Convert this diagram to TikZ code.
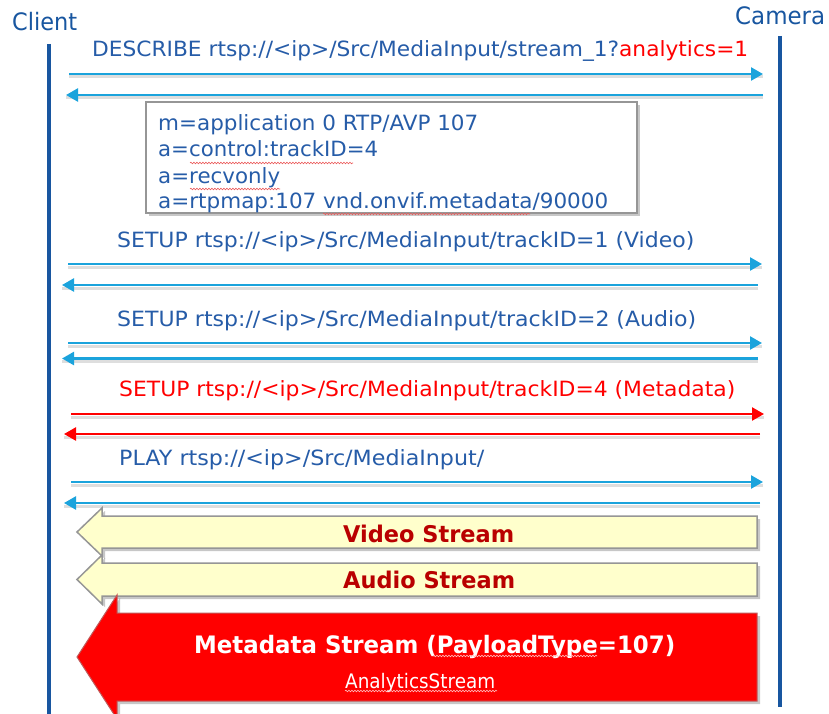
\documentclass[tikz,border=0pt]{standalone}
\usepackage{fontspec}
\setmainfont{DejaVu Sans}
\usetikzlibrary{arrows.meta,decorations.pathmorphing}
\definecolor{lifeblue}{RGB}{24,86,160}
\definecolor{msgblue}{RGB}{27,163,220}
\definecolor{txtblue}{RGB}{38,92,168}
\definecolor{msgred}{RGB}{255,0,0}
\definecolor{strred}{RGB}{185,0,0}
\definecolor{pale}{RGB}{255,255,204}
\definecolor{edgegray}{RGB}{150,150,150}
\definecolor{squig}{RGB}{235,90,90}
\newcommand{\fitto}[2]{\resizebox{#1}{\height}{#2}}
\tikzset{
  lifeline/.style={draw=lifeblue, line width=4.5pt},
  msg/.style={draw=msgblue, line width=2.4pt, -{Triangle[length=12pt,width=13pt]}},
  msgr/.style={msg, draw=msgred},
  shadowline/.style={draw=black, opacity=0.13, line width=3pt},
  lbl/.style={inner sep=0pt, anchor=base west, text=txtblue, font=\fontsize{21}{25}\selectfont},
  sdpbox/.style={draw=edgegray, line width=1.6pt, fill=white, inner sep=0pt, anchor=north west},
  palearrow/.style={draw=edgegray, line width=1.5pt, fill=pale},
  redarrow/.style={draw=edgegray!60!red, line width=1pt, fill=msgred},
  shade/.style={fill=black, opacity=0.22},
  strlbl/.style={inner sep=0pt, anchor=base west, text=strred, font=\fontsize{23}{27}\selectfont\bfseries},
  wave/.style={draw=squig, line width=0.6pt, decorate, decoration={snake, amplitude=0.8pt, segment length=3pt}}
}
\begin{document}
\begin{tikzpicture}[x=1pt,y=-1pt]
\useasboundingbox[fill=white] (0,0) rectangle (829,714);

% participants
\node[lbl, text=lifeblue, font=\fontsize{24}{28}\selectfont] (client) at (12,31) {\fitto{65pt}{Client}};
\node[lbl, text=lifeblue, font=\fontsize{24}{28}\selectfont] (camera) at (735,25) {\fitto{90pt}{Camera}};
\coordinate (clTop) at (49,44);
\coordinate (clBot) at (49,714);
\coordinate (caTop) at (780,36);
\coordinate (caBot) at (780,707);
\draw[lifeline] (clTop) -- (clBot);
\draw[lifeline] (caTop) -- (caBot);

% DESCRIBE
\node[lbl] (describe) at (92,57) {\fitto{656pt}{DESCRIBE rtsp://<ip>/Src/MediaInput/stream\_1?\textcolor{msgred}{analytics=1}}};
\coordinate (m1a) at (69,74);  \coordinate (m1b) at (763,74);
\coordinate (r1a) at (763,95); \coordinate (r1b) at (66,95);

% SDP box
\fill[shade] (149,105) rectangle (640,216);
\node[sdpbox, minimum width=491pt, minimum height=111pt] (sdp) at (145,101) {};
\node[lbl] (sdp1) at (158,131) {\fitto{320pt}{m=application 0 RTP/AVP 107}};
\node[lbl] (sdp2) at (158,157) {\fitto{220pt}{a=control:trackID=4}};
\node[lbl] (sdp3) at (158,183) {\fitto{122pt}{a=recvonly}};
\node[lbl] (sdp4) at (158,208.5) {\fitto{450pt}{a=rtpmap:107 vnd.onvif.metadata/90000}};
\draw[wave] (190,163) -- (353,163);
\draw[wave] (190,189) -- (280,189);
\draw[wave] (323,214) -- (530,214);

% SETUP video
\node[lbl] (setupv) at (117,247) {\fitto{577pt}{SETUP rtsp://<ip>/Src/MediaInput/trackID=1 (Video)}};
\coordinate (m2a) at (68,264);  \coordinate (m2b) at (762,264);
\coordinate (r2a) at (758,285); \coordinate (r2b) at (62,285);

% SETUP audio
\node[lbl] (setupa) at (117,326) {\fitto{579pt}{SETUP rtsp://<ip>/Src/MediaInput/trackID=2 (Audio)}};
\coordinate (m3a) at (68,343);  \coordinate (m3b) at (762,343);
\coordinate (r3a) at (758,358.5); \coordinate (r3b) at (62,358.5);

% SETUP metadata
\node[lbl, text=msgred] (setupm) at (119,396) {\fitto{616pt}{SETUP rtsp://<ip>/Src/MediaInput/trackID=4 (Metadata)}};
\coordinate (m4a) at (71,414);  \coordinate (m4b) at (764,414);
\coordinate (r4a) at (760,434); \coordinate (r4b) at (64,434);

% PLAY
\node[lbl] (play) at (119,465) {\fitto{365pt}{PLAY rtsp://<ip>/Src/MediaInput/}};
\coordinate (m5a) at (71,482);  \coordinate (m5b) at (763,482);
\coordinate (r5a) at (760,503); \coordinate (r5b) at (64,503);

% message shadows
\foreach \p/\q in {m1a/m1b,r1a/r1b,m2a/m2b,r2a/r2b,m3a/m3b,r3a/r3b,m4a/m4b,r4a/r4b,m5a/m5b,r5a/r5b}
  \draw[shadowline] ([yshift=-3pt]\p) -- ([yshift=-3pt]\q);

% messages
\draw[msg] (m1a) -- (m1b);
\draw[msg] (r1a) -- (r1b);
\draw[msg] (m2a) -- (m2b);
\draw[msg] (r2a) -- (r2b);
\draw[msg] (m3a) -- (m3b);
\draw[msg] (r3a) -- (r3b);
\draw[msgr] (m4a) -- (m4b);
\draw[msgr] (r4a) -- (r4b);
\draw[msg] (m5a) -- (m5b);
\draw[msg] (r5a) -- (r5b);

% Video stream block arrow
\fill[shade] (760,519) -- (105,519) -- (105,511) -- (80,535) -- (105,559) -- (105,551) -- (760,551) -- cycle;
\draw[palearrow] (757,516) -- (102,516) -- (102,508) -- (77,532) -- (102,556) -- (102,548) -- (757,548) -- cycle;
\node[strlbl] (vstream) at (343,542) {\fitto{171pt}{Video Stream}};

% Audio stream block arrow
\fill[shade] (760,566) -- (105,566) -- (105,558) -- (80,582.5) -- (105,607) -- (105,599) -- (760,599) -- cycle;
\draw[palearrow] (757,563) -- (102,563) -- (102,555) -- (77,579.5) -- (102,604) -- (102,596) -- (757,596) -- cycle;
\node[strlbl] (astream) at (343,588) {\fitto{172pt}{Audio Stream}};

% Metadata stream block arrow
\fill[shade] (760,616) -- (120,616) -- (120,598) -- (80,660) -- (120,722) -- (120,704) -- (760,704) -- cycle;
\draw[redarrow] (757,613) -- (117,613) -- (117,595) -- (77,657) -- (117,719) -- (117,701) -- (757,701) -- cycle;
\node[strlbl, text=white, font=\fontsize{24}{28}\selectfont\bfseries] (mstream) at (194,653) {\fitto{481pt}{Metadata Stream (PayloadType=107)}};
\node[lbl, text=white, font=\fontsize{20}{24}\selectfont] (analytics) at (345,688) {\fitto{150pt}{AnalyticsStream}};
\draw[wave, draw=white!75!red] (433,656) -- (597,656);
\draw[wave, draw=white!75!red] (345,691) -- (497,691);
\end{tikzpicture}
\end{document}
